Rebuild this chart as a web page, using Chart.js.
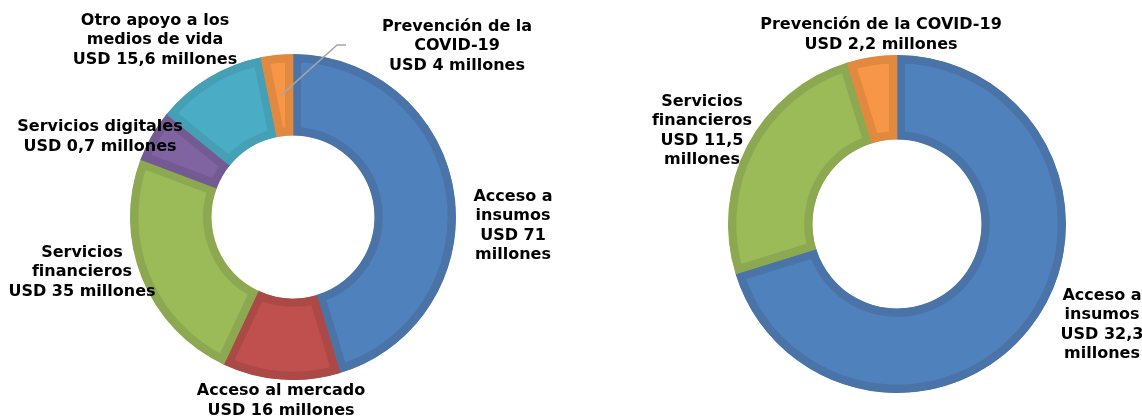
<!DOCTYPE html>
<html lang="es">
<head>
<meta charset="utf-8">
<title>Distribución de fondos</title>
<script src="https://cdn.jsdelivr.net/npm/chart.js@4"></script>
<style>
  body { margin: 0; background: #fff; }
  #izq { position: absolute; left: 0; top: 0; }
  #der { position: absolute; left: 570px; top: 0; }
</style>
</head>
<body>
<canvas id="izq" width="570" height="416"></canvas>
<canvas id="der" width="572" height="416"></canvas>
<script>
// grafico izquierdo (slices as drawn in the picture)
const categoriasIzq = ['Acceso a insumos', 'Acceso al mercado', 'Servicios financieros',
    'Servicios digitales', 'Otro apoyo a los medios de vida', 'Prevención de la COVID-19'];
const valoresIzq = [64.5, 16.6, 33.8, 7.3, 15.6, 4.5];
const coloresIzq = ['#4f81bd', '#c0504d', '#9bbb59', '#8064a2', '#4bacc6', '#f79646'];
const bordesIzq = ['#4a74a8', '#aa4946', '#8ca850', '#735a93', '#45a0b6', '#e0893f'];

// grafico derecho
const categoriasDer = ['Acceso a insumos', 'Servicios financieros', 'Prevención de la COVID-19'];
const valoresDer = [32.3, 11.5, 2.2];
const coloresDer = ['#4f81bd', '#9bbb59', '#f79646'];
const bordesDer = ['#4a74a8', '#8ca850', '#e0893f'];

// label text and placement (offsets from the doughnut centre)
const etiquetasIzq = [
    { lineas: ['Acceso a', 'insumos', 'USD 71', 'millones'], dx: 220, dy: 9 },
    { lineas: ['Acceso al mercado', 'USD 16 millones'], dx: -12, dy: 184 },
    { lineas: ['Servicios', 'financieros', 'USD 35 millones'], dx: -211, dy: 55 },
    { lineas: ['Servicios digitales', 'USD 0,7 millones'], dx: -193, dy: -80 },
    { lineas: ['Otro apoyo a los', 'medios de vida', 'USD 15,6 millones'], dx: -138, dy: -177 },
    { lineas: ['Prevención de la', 'COVID-19', 'USD 4 millones'], dx: 164, dy: -171,
      guia: [[44, -172], [53, -172]] }
];
const etiquetasDer = [
    { lineas: ['Acceso a', 'insumos', 'USD 32,3', 'millones'], dx: 205, dy: 101 },
    { lineas: ['Servicios', 'financieros', 'USD 11,5', 'millones'], dx: -195, dy: -93 },
    { lineas: ['Prevención de la COVID-19', 'USD 2,2 millones'], dx: -16, dy: -189 }
];

const etiquetasPlugin = {
    id: 'etiquetas',
    afterDraw(chart, args, opts) {
        const ctx = chart.ctx;
        const arcs = chart.getDatasetMeta(0).data;
        const cx = arcs[0].x, cy = arcs[0].y;
        ctx.save();
        opts.items.forEach(function(item, i) {
            if (item.guia) {
                const p = arcs[i].getCenterPoint();
                ctx.strokeStyle = '#a6a6a6';
                ctx.lineWidth = 1.5;
                ctx.beginPath();
                ctx.moveTo(p.x, p.y);
                item.guia.forEach(function(g) { ctx.lineTo(cx + g[0], cy + g[1]); });
                ctx.stroke();
            }
            ctx.fillStyle = '#000';
            ctx.font = 'bold 16px "DejaVu Sans"';
            ctx.textAlign = 'center';
            ctx.textBaseline = 'middle';
            const alto = 19.4;
            const y0 = cy + item.dy - (item.lineas.length - 1) * alto / 2;
            item.lineas.forEach(function(linea, j) {
                ctx.fillText(linea, cx + item.dx, y0 + j * alto);
            });
        });
        ctx.restore();
    }
};

function dona(id, labels, data, colores, bordes, padding, items) {
    return new Chart(document.getElementById(id).getContext('2d'), {
        type: 'doughnut',
        data: {
            labels: labels,
            datasets: [{
                data: data,
                backgroundColor: colores,
                borderColor: bordes,
                borderWidth: 8,
                borderAlign: 'inner',
            }]
        },
        options: {
            responsive: false,
            animation: false,
            cutout: '50%',
            layout: { padding: padding },
            plugins: {
                legend: { display: false },
                tooltip: { enabled: false },
                etiquetas: { items: items },
            },
        },
        plugins: [etiquetasPlugin],
    });
}

dona('izq', categoriasIzq, valoresIzq, coloresIzq, bordesIzq,
    { left: 130, right: 114, top: 54, bottom: 36 }, etiquetasIzq);
dona('der', categoriasDer, valoresDer, coloresDer, bordesDer,
    { left: 158, right: 76, top: 55, bottom: 23 }, etiquetasDer);
</script>
</body>
</html>
